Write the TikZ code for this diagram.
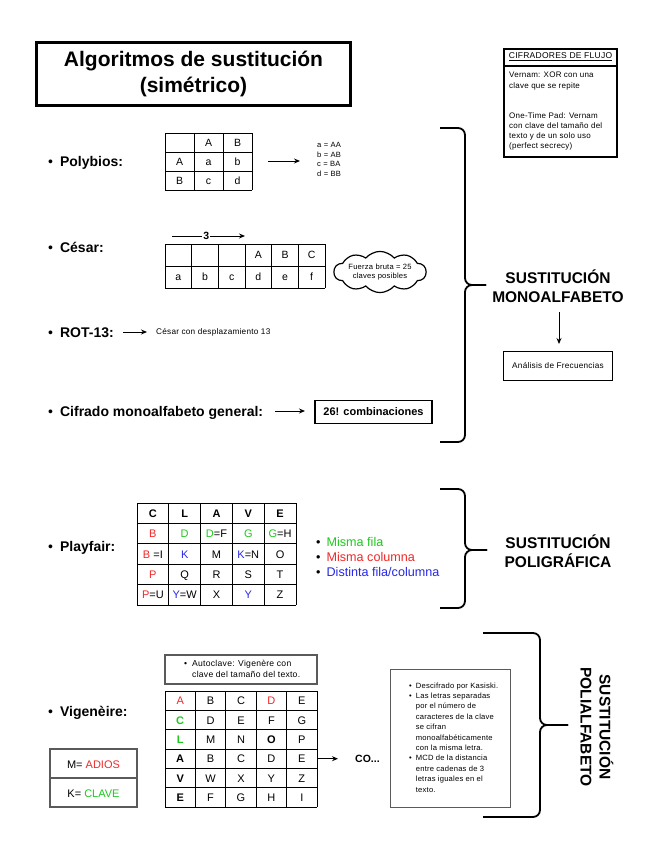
\documentclass[tikz,border=0pt]{standalone}
\usepackage{fontspec}
\setmainfont{Liberation Sans}
\newfontfamily\tinyfont[LetterSpace=3]{Liberation Sans}
\usetikzlibrary{arrows.meta,shapes.symbols}
\definecolor{cred}{RGB}{240,40,40}
\definecolor{cgreen}{RGB}{30,200,30}
\definecolor{cblue}{RGB}{40,40,230}
\definecolor{lgray}{RGB}{90,90,90}
\begin{document}
\begin{tikzpicture}[x=1pt,y=-1pt,
  arr/.style={-{Stealth[length=6pt,width=5pt]}, line width=0.9pt},
  brace/.style={line width=1.8pt, rounded corners=7pt},
  tbl/.style={line width=0.8pt, draw=black},
  cell/.style={inner sep=0pt, text height=7.5pt, text depth=0pt, font=\fontsize{10.5}{10.5}\selectfont},
  bcell/.style={cell, font=\fontsize{10.5}{10.5}\selectfont\bfseries},
  pcell/.style={inner sep=0pt, text height=8pt, text depth=0pt, font=\fontsize{11}{11}\selectfont},
  pbcell/.style={pcell, font=\fontsize{11}{11}\selectfont\bfseries},
  item/.style={anchor=west, inner sep=0pt, text height=10pt, text depth=0pt, font=\fontsize{14}{14}\selectfont\bfseries},
  small/.style={inner sep=0pt, align=left, font=\tinyfont\fontsize{8}{10.2}\selectfont},
  big/.style={inner sep=0pt, align=center, font=\fontsize{15.5}{19}\selectfont\bfseries},
]
\fill[white] (0,0) rectangle (655,848);
\useasboundingbox (0,0) rectangle (655,848);

% ---------- Title ----------
\node[draw, line width=3pt, minimum width=314pt, minimum height=63pt, inner sep=0pt,
      align=center, font=\fontsize{21}{26}\selectfont\bfseries] (title) at (193.5,74)
      {Algoritmos de sustitución\\(simétrico)};

% ---------- Cifradores de flujo ----------
\node[draw, line width=1.8pt, minimum width=113pt, minimum height=108pt, inner sep=0pt] (flujo) at (560.5,103) {};
\coordinate (fl1) at (504,66);
\coordinate (fl2) at (617,66);
\draw[line width=1.2pt] (fl1) -- (fl2);
\node[inner sep=0pt, font=\tinyfont\fontsize{8.5}{10}\selectfont] (flujoh) at (560.5,57) {\underline{CIFRADORES DE FLUJO}};
\node[small, anchor=west] (vern) at (509,81) {Vernam: XOR con una\\clave que se repite};
\node[small, anchor=west] (otp) at (509,131.5) {One-Time Pad: Vernam\\con clave del tamaño del\\texto y de un solo uso\\(perfect secrecy)};

% ---------- Polybios ----------
\node[item] (polyb) at (48,161) {{\mdseries •}\hspace{7pt}Polybios:};
\foreach \i in {0,1,2,3} \draw[tbl] ({165+29*\i},133) -- ({165+29*\i},190);
\foreach \j in {0,1,2,3} \draw[tbl] (165,{133+19*\j}) -- (252,{133+19*\j});
\node[cell] (pb-1-2) at (208.5,142.5) {A};
\node[cell] (pb-1-3) at (237.5,142.5) {B};
\foreach \t [count=\c] in {A,a,b} \node[cell] (pb-2-\c) at ({165+29*(\c-0.5)},161.5) {\t};
\foreach \t [count=\c] in {B,c,d} \node[cell] (pb-3-\c) at ({165+29*(\c-0.5)},180.5) {\t};
\coordinate (pbA) at (268,161);
\coordinate (pbB) at (300,161);
\draw[arr] (pbA) -- (pbB);
\node[inner sep=0pt, anchor=west, align=left, font=\tinyfont\fontsize{7.6}{9.4}\selectfont] (pbmap) at (317,159.5) {a = AA\\b = AB\\c = BA\\d = BB};

% ---------- César ----------
\node[item] (cesar) at (48,247) {{\mdseries •}\hspace{7pt}César:};
\foreach \i in {0,...,6} \draw[tbl] ({165+26.667*\i},244) -- ({165+26.667*\i},288);
\foreach \j in {0,1,2} \draw[tbl] (165,{244+22*\j}) -- (325,{244+22*\j});
\foreach \t [count=\c from 4] in {A,B,C} \node[cell] (cs-1-\c) at ({165+26.667*(\c-0.5)},255) {\t};
\foreach \t [count=\c] in {a,b,c,d,e,f} \node[cell] (cs-2-\c) at ({165+26.667*(\c-0.5)},277) {\t};
\coordinate (c3a) at (172,236);
\coordinate (c3b) at (245,236);
\draw[arr] (c3a) -- node[pos=0.47, fill=white, inner sep=1pt, font=\fontsize{10.5}{10.5}\selectfont\bfseries] (c3n) {3} (c3b);
\node[cloud, draw, line width=1.2pt, cloud puffs=10, cloud puff arc=100, aspect=3,
      minimum width=92pt, minimum height=35pt, inner sep=0pt, align=center,
      font=\tinyfont\fontsize{7.6}{9.5}\selectfont] (cloud) at (380,272) {Fuerza bruta = 25\\claves posibles};

% ---------- ROT-13 ----------
\node[item] (rot) at (48,332) {{\mdseries •}\hspace{7pt}ROT-13:};
\coordinate (rtA) at (123,332);
\coordinate (rtB) at (147,332);
\draw[arr] (rtA) -- (rtB);
\node[inner sep=0pt, anchor=west, font=\tinyfont\fontsize{8.2}{9}\selectfont] (rottxt) at (156,332) {César con desplazamiento 13};

% ---------- Cifrado general ----------
\node[item] (gen) at (48,411) {{\mdseries •}\hspace{7pt}Cifrado monoalfabeto general:};
\coordinate (gnA) at (275,411);
\coordinate (gnB) at (305,411);
\draw[arr] (gnA) -- (gnB);
\node[draw, line width=1.8pt, minimum width=117pt, minimum height=23pt, inner sep=0pt,
      font=\fontsize{11}{11}\selectfont\bfseries] (comb) at (373.5,412) {26! combinaciones};

% ---------- Brace 1 ----------
\draw[brace] (440,128) -- (465,128) -- (465,285) -- (486,285);
\draw[brace] (486,285) -- (465,285) -- (465,442) -- (440,442);
\node[big] (mono) at (558,286) {SUSTITUCIÓN\\MONOALFABETO};
\coordinate (moA) at (559,312);
\coordinate (moB) at (559,344);
\draw[arr] (moA) -- (moB);
\node[draw, line width=1.8pt, minimum width=109pt, minimum height=29pt, inner sep=0pt,
      font=\tinyfont\fontsize{8.2}{9}\selectfont] (anal) at (558,366) {Análisis de Frecuencias};

% ---------- Playfair ----------
\node[item] (playf) at (48,546) {{\mdseries •}\hspace{7pt}Playfair:};
\foreach \i in {0,...,5} \draw[tbl] ({137+31.8*\i},503) -- ({137+31.8*\i},605);
\foreach \j in {0,...,5} \draw[tbl] (137,{503+20.4*\j}) -- (296,{503+20.4*\j});
\foreach \t [count=\c] in {C,L,A,V,E}
  \node[pbcell] (pf-1-\c) at ({137+31.8*(\c-0.5)},513.2) {\t};
\foreach \t [count=\c] in {{\color{cred}B},{\color{cgreen}D},{{\color{cgreen}D}=F},{\color{cgreen}G},{{\color{cgreen}G}=H}}
  \node[pcell] (pf-2-\c) at ({137+31.8*(\c-0.5)},533.6) {\t};
\foreach \t [count=\c] in {{{\color{cred}B} =I},{\color{cblue}K},M,{{\color{cblue}K}=N},O}
  \node[pcell] (pf-3-\c) at ({137+31.8*(\c-0.5)},554) {\t};
\foreach \t [count=\c] in {{\color{cred}P},Q,R,S,T}
  \node[pcell] (pf-4-\c) at ({137+31.8*(\c-0.5)},574.4) {\t};
\foreach \t [count=\c] in {{{\color{cred}P}=U},{{\color{cblue}Y}=W},X,{\color{cblue}Y},Z}
  \node[pcell] (pf-5-\c) at ({137+31.8*(\c-0.5)},594.8) {\t};
\node[inner sep=0pt, anchor=west, align=left, font=\fontsize{12.6}{15}\selectfont] (legend) at (316,557)
  {•\hspace{6pt}\textcolor{cgreen}{Misma fila}\\•\hspace{6pt}\textcolor{cred}{Misma columna}\\•\hspace{6pt}\textcolor{cblue}{Distinta fila/columna}};

% ---------- Brace 2 ----------
\draw[brace] (440,489) -- (465,489) -- (465,550) -- (487,550);
\draw[brace] (487,550) -- (465,550) -- (465,608) -- (440,608);
\node[big] (polig) at (558,551) {SUSTITUCIÓN\\POLIGRÁFICA};

% ---------- Vigenère ----------
\node[item] (vig) at (48,711) {{\mdseries •}\hspace{7pt}Vigenèire:};
\node[draw=lgray, line width=1.3pt, minimum width=152pt, minimum height=29pt, inner sep=0pt] (autobox) at (241,669.5) {};
\node[inner sep=0pt, anchor=west, font=\tinyfont\fontsize{8.6}{11}\selectfont] (autotxt) at (184,670)
  {\begin{tabular}{@{}l@{\hspace{5pt}}l@{}}•&Autoclave: Vigenère con\\&clave del tamaño del texto.\end{tabular}};
\foreach \i in {0,...,5} \draw[tbl] ({165+30.4*\i},691) -- ({165+30.4*\i},807);
\foreach \j in {0,...,6} \draw[tbl] (165,{691+19.333*\j}) -- (317,{691+19.333*\j});
\foreach \t [count=\c] in {{\textcolor{cred}{A}},B,C,{\textcolor{cred}{D}},E}
  \node[pcell] (vg-1-\c) at ({165+30.4*(\c-0.5)},700.7) {\t};
\foreach \t [count=\c] in {{\textbf{\textcolor{cgreen}{C}}},D,E,F,G}
  \node[pcell] (vg-2-\c) at ({165+30.4*(\c-0.5)},720) {\t};
\foreach \t [count=\c] in {{\textbf{\textcolor{cgreen}{L}}},M,N,{\textbf{O}},P}
  \node[pcell] (vg-3-\c) at ({165+30.4*(\c-0.5)},739.3) {\t};
\foreach \t [count=\c] in {{\textbf{A}},B,C,D,E}
  \node[pcell] (vg-4-\c) at ({165+30.4*(\c-0.5)},758.7) {\t};
\foreach \t [count=\c] in {{\textbf{V}},W,X,Y,Z}
  \node[pcell] (vg-5-\c) at ({165+30.4*(\c-0.5)},778) {\t};
\foreach \t [count=\c] in {{\textbf{E}},F,G,H,I}
  \node[pcell] (vg-6-\c) at ({165+30.4*(\c-0.5)},797.3) {\t};
\coordinate (vgA) at (317,758.7);
\coordinate (vgB) at (338,758.7);
\draw[arr] (vgA) -- (vgB);
\node[inner sep=0pt, anchor=west, text height=8pt, text depth=0pt, font=\fontsize{10.5}{10.5}\selectfont\bfseries] (co) at (355,758.7) {CO...};

% M / K box
\node[draw=lgray, line width=1.3pt, minimum width=87pt, minimum height=58pt, inner sep=0pt] (mkbox) at (93.5,778) {};
\coordinate (mk1) at (50,778);
\coordinate (mk2) at (137,778);
\draw[lgray, line width=1.3pt] (mk1) -- (mk2);
\node[pcell] (mtxt) at (93.5,764) {M= \textcolor{cred}{ADIOS}};
\node[pcell] (ktxt) at (93.5,793) {K= \textcolor{cgreen}{CLAVE}};

% Kasiski box
\node[draw=lgray, line width=1pt, minimum width=120pt, minimum height=138pt, inner sep=0pt] (kbox) at (450,738.5) {};
\node[inner sep=0pt, anchor=west, font=\tinyfont\fontsize{7.6}{10.4}\selectfont] (kastxt) at (409,738)
  {\begin{tabular}{@{}l@{\hspace{4pt}}l@{}}•&Descifrado por Kasiski.\\•&Las letras separadas\\&por el número de\\&caracteres de la clave\\&se cifran\\&monoalfabéticamente\\&con la misma letra.\\•&MCD de la distancia\\&entre cadenas de 3\\&letras iguales en el\\&texto.\end{tabular}};

% ---------- Brace 3 ----------
\draw[brace] (483,633) -- (540,633) -- (540,725) -- (568,725);
\draw[brace] (568,725) -- (540,725) -- (540,817) -- (483,817);
\node[big, rotate=-90] (polia) at (597,727) {SUSTITUCIÓN\\POLIALFABETO};
\end{tikzpicture}
\end{document}
